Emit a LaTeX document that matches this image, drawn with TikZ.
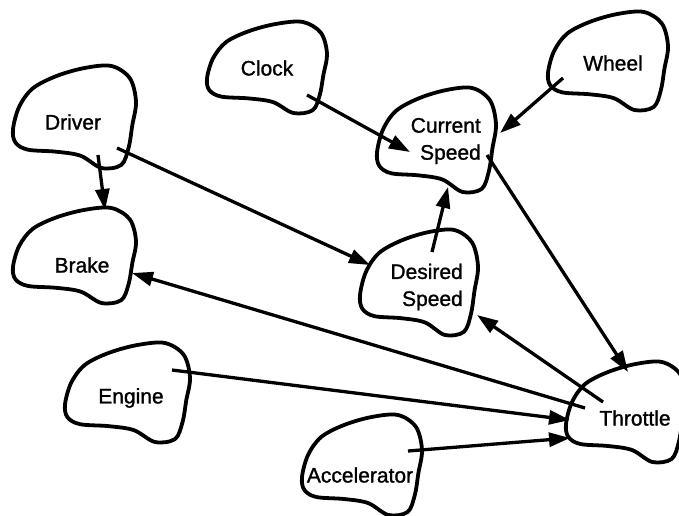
\documentclass[tikz,border=0pt]{standalone}
\usepackage{fontspec}
\newfontfamily\blobfont[FakeBold=1.2]{Liberation Sans}
\usetikzlibrary{arrows.meta}
\tikzset{
  blobline/.style={draw=black, line width=3.8pt, line join=round},
  lbl/.style={inner sep=0pt, font=\blobfont\fontsize{21}{27}\selectfont, text=black},
  lbl2/.style={lbl, align=right, anchor=east},
  conn/.style={draw=black, line width=3.3pt, -{Triangle[length=21pt,width=14pt]}}
}
\newcommand\myblob[4]{%
  \begin{scope}[shift={(#1,#2)},xscale=#3,yscale=#4]
    \draw[blobline] plot[smooth cycle, tension=0.55] coordinates {
      (0.00,0.62) (0.05,0.40) (0.16,0.22) (0.35,0.10) (0.58,0.02) (0.80,0.00)
      (0.95,0.12) (1.00,0.35) (0.97,0.58) (0.94,0.80) (0.88,0.97) (0.72,1.00)
      (0.55,0.88) (0.35,0.84) (0.12,0.82) (0.02,0.75)};
  \end{scope}}
\begin{document}
\begin{tikzpicture}[x=1pt,y=-1pt]
  \useasboundingbox (0,0) rectangle (679,515);
  % blobs
  \myblob{207}{22}{120}{91}
  \myblob{548}{12}{120}{98}
  \myblob{13}{66}{123}{102}
  \myblob{13}{208}{123}{95}
  \myblob{377}{88}{119}{104}
  \myblob{360}{230}{118}{105}
  \myblob{65}{343}{125}{99}
  \myblob{566}{362}{120}{100}
  \myblob{302}{415}{120}{100}
  % labels
  \node[lbl] (clock) at (267,68) {Clock};
  \node[lbl] (wheel) at (613,63) {Wheel};
  \node[lbl] (driver) at (73,122) {Driver};
  \node[lbl] (brake) at (82,265) {Brake};
  \node[lbl2] (cur) at (481,141) {Current\\Speed};
  \node[lbl2] (des) at (463,287) {Desired\\Speed};
  \node[lbl] (engine) at (131,398) {Engine};
  \node[lbl] (throttle) at (635,418) {Throttle};
  \node[lbl] (acc) at (360,475) {Accelerator};
  % connector end points
  \coordinate (drvA) at (98,155);   \coordinate (brkT) at (105,210);
  \coordinate (drvB) at (117,148);  \coordinate (desL) at (370,265);
  \coordinate (clkA) at (307,95);   \coordinate (curL) at (410,152);
  \coordinate (whlA) at (563,78);   \coordinate (curR) at (500,133);
  \coordinate (desT) at (432,252);  \coordinate (curB) at (448,187);
  \coordinate (curA) at (487,155);  \coordinate (thrT) at (628,372);
  \coordinate (thrA) at (603,402);  \coordinate (desR) at (477,315);
  \coordinate (thrB) at (585,408);  \coordinate (brkR) at (132,273);
  \coordinate (engA) at (172,370);  \coordinate (thrL) at (570,420);
  \coordinate (accA) at (408,451);  \coordinate (thrL2) at (570,438);
  % connectors
  \draw[conn] (drvA) -- (brkT);
  \draw[conn] (drvB) -- (desL);
  \draw[conn] (clkA) -- (curL);
  \draw[conn] (whlA) -- (curR);
  \draw[conn] (desT) -- (curB);
  \draw[conn] (curA) -- (thrT);
  \draw[conn] (thrA) -- (desR);
  \draw[conn] (thrB) -- (brkR);
  \draw[conn] (engA) -- (thrL);
  \draw[conn] (accA) -- (thrL2);
\end{tikzpicture}
\end{document}
